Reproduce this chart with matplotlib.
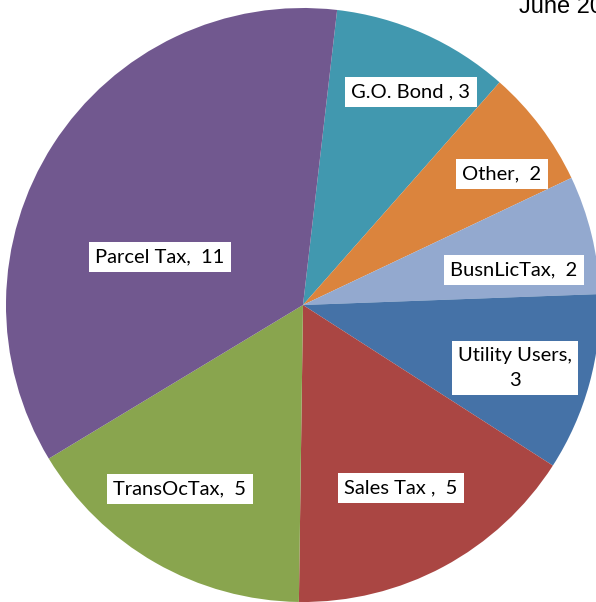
import matplotlib.pyplot as plt

labels = ['G.O. Bond , 3', 'Other,  2', 'BusnLicTax,  2', 'Utility Users,\n3',
          'Sales Tax ,  5', 'TransOcTax,  5', 'Parcel Tax,  11']
values = [3, 2, 2, 3, 5, 5, 11]
colors = ['#4198AF', '#DB843D', '#93A9CF', '#4572A7', '#AA4643', '#89A54E', '#71588F']

# label centres in pixels of the original picture (pie centre 303,305, radius 297)
label_px = [(411, 92), (502, 174), (514, 270), (515, 368), (401, 488), (180, 489), (160, 257)]

fig = plt.figure(figsize=(5.96, 6.02), dpi=100)
ax = fig.add_axes([6 / 596, 0, 594 / 596, 594 / 602])
ax.pie(values, colors=colors, startangle=83.4, counterclock=False, radius=1,
       wedgeprops=dict(linewidth=0))
ax.set_xlim(-1, 1)
ax.set_ylim(-1, 1)
ax.set_aspect('equal')
ax.axis('off')

for lab, (px, py) in zip(labels, label_px):
    ax.text((px - 303) / 297, (305 - py) / 297, lab, ha='center', va='center',
            fontsize=14.5, family='Lato', color='black', linespacing=1.6,
            bbox=dict(facecolor='white', edgecolor='none', pad=4.5))

fig.text(519 / 596, 1 - 13 / 602, 'June 2012', fontsize=17, family='Liberation Sans',
         ha='left', va='baseline')

fig.savefig('out.png', dpi=100)
